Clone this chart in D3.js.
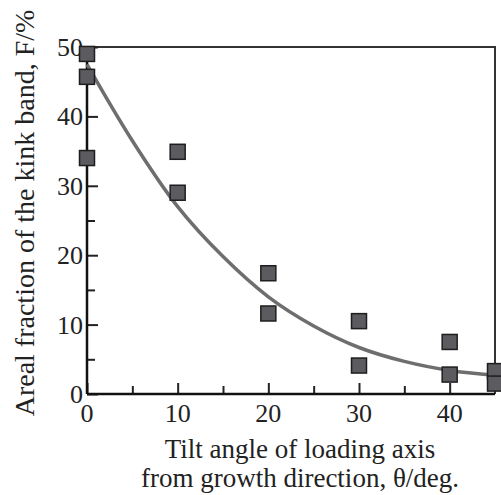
<!DOCTYPE html>
<html>
<head>
<meta charset="utf-8">
<script src="https://cdn.jsdelivr.net/npm/d3@7"></script>
<style>
  body { margin: 0; background: #fff; }
  svg { display: block; font-family: "Liberation Serif", "Times New Roman", serif; }
</style>
</head>
<body>
<svg id="chart" width="501" height="495"></svg>
<script>
// measured points
var angles    = [0, 0, 0, 10, 10, 20, 20, 30, 30, 40, 40, 45, 45];
var fractions = [49, 45.7, 34, 34.9, 29, 17.4, 11.6, 10.5, 4.1, 7.5, 2.8, 3.3, 1.5];

// fitted curve, every 5 deg
var fitAngles    = [0, 5, 10, 15, 20, 25, 30, 35, 40, 45];
var fitFractions = [47.5, 36.5, 27, 19.8, 14, 9.8, 6.7, 4.7, 3.4, 2.7];

var xTicks = [0, 10, 20, 30, 40];
var yTicks = [0, 10, 20, 30, 40, 50];

var svg = d3.select("#chart"),
    margin = {top: 47, right: 6, bottom: 101, left: 87},
    width = +svg.attr("width"),
    height = +svg.attr("height");

var x = d3.scaleLinear().domain([0, 45]).range([margin.left, width - margin.right]);
var y = d3.scaleLinear().domain([0, 50]).range([height - margin.bottom, margin.top]);

// top + right frame
svg.append("path")
  .attr("d", "M" + x(0) + "," + y(50) + "H" + x(45) + "V" + y(0))
  .attr("fill", "none")
  .attr("stroke", "#333")
  .attr("stroke-width", 2);

// minor ticks (every 5), inward
var gx = svg.append("g").attr("transform", "translate(0," + y(0) + ")");
gx.call(d3.axisTop(x).tickValues(d3.range(5, 45, 10)).tickSize(8).tickFormat(""));
var gy = svg.append("g").attr("transform", "translate(" + x(0) + ",0)");
gy.call(d3.axisRight(y).tickValues(d3.range(5, 50, 10)).tickSize(8).tickFormat(""));

// major ticks
var gx2 = svg.append("g").attr("transform", "translate(0," + y(0) + ")");
gx2.call(d3.axisTop(x).tickValues(xTicks).tickSize(11).tickFormat(""));
var gy2 = svg.append("g").attr("transform", "translate(" + x(0) + ",0)");
gy2.call(d3.axisRight(y).tickValues(yTicks).tickSize(11).tickFormat(""));

svg.selectAll(".domain").remove();
svg.selectAll(".tick line").attr("stroke", "#222").attr("stroke-width", 2);

// axis lines
svg.append("line").attr("x1", x(0)).attr("x2", x(45)).attr("y1", y(0)).attr("y2", y(0))
  .attr("stroke", "#111").attr("stroke-width", 2.5);
svg.append("line").attr("x1", x(0)).attr("x2", x(0)).attr("y1", y(0)).attr("y2", y(50))
  .attr("stroke", "#111").attr("stroke-width", 2.5);

// tick labels
svg.append("g").selectAll("text").data(xTicks).join("text")
  .attr("x", d => x(d)).attr("y", 422)
  .attr("text-anchor", "middle")
  .attr("font-size", 26).attr("fill", "#222")
  .text(d => d);
svg.append("g").selectAll("text").data(yTicks).join("text")
  .attr("x", x(0) - 4).attr("y", d => y(d) + 9)
  .attr("text-anchor", "end")
  .attr("font-size", 26).attr("fill", "#222")
  .text(d => d);

// fit curve
var fit = fitAngles.map((a, i) => [a, fitFractions[i]]);
svg.append("path")
  .datum(fit)
  .attr("fill", "none")
  .attr("stroke", "#6e6e6e")
  .attr("stroke-width", 3.5)
  .attr("d", d3.line().x(d => x(d[0])).y(d => y(d[1])).curve(d3.curveCatmullRom));

// points
var s = 15;
svg.append("g").selectAll("rect").data(angles.map((a, i) => [a, fractions[i]])).join("rect")
  .attr("x", d => x(d[0]) - s / 2).attr("y", d => y(d[1]) - s / 2)
  .attr("width", s).attr("height", s)
  .attr("fill", "#5b5b60")
  .attr("stroke", "#1e1e1e")
  .attr("stroke-width", 1.5);

// titles
var xt = svg.append("text").attr("text-anchor", "middle").attr("font-size", 27).attr("fill", "#222");
xt.append("tspan").attr("x", 300).attr("y", 458).text("Tilt angle of loading axis");
xt.append("tspan").attr("x", 300).attr("y", 487).text("from growth direction, \u03b8/deg.");

svg.append("text")
  .attr("transform", "translate(34," + 213 + ") rotate(-90)")
  .attr("text-anchor", "middle")
  .attr("font-size", 28).attr("fill", "#222")
  .text("Areal fraction of the kink band, F/%");
</script>
</body>
</html>
